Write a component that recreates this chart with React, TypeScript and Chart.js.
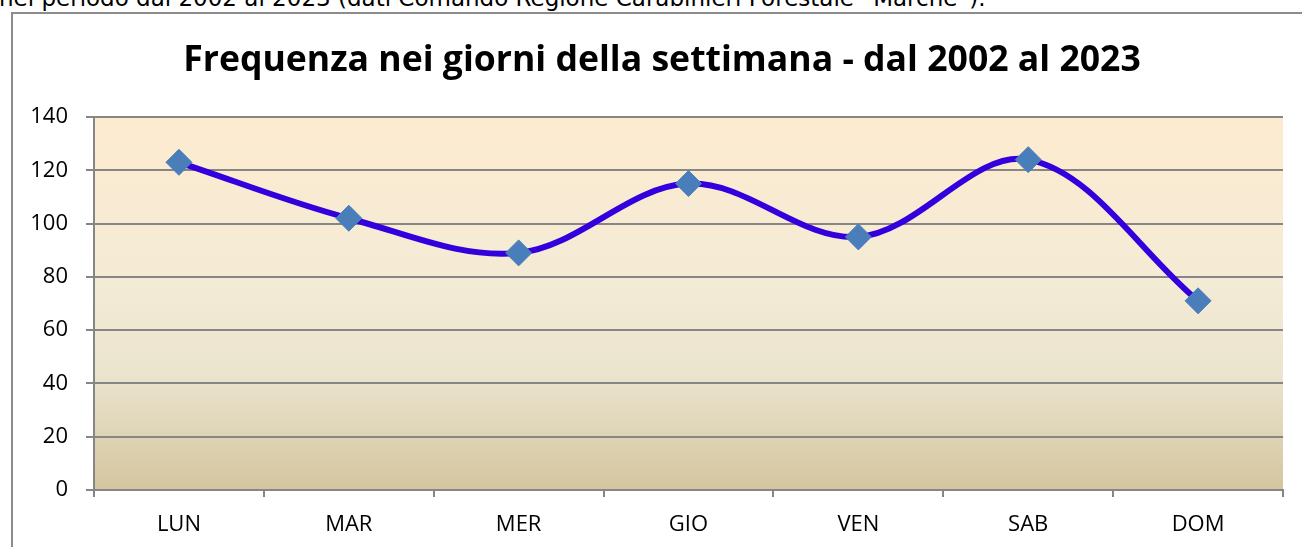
import React, { useEffect, useRef } from 'react';
import { Chart, registerables } from 'chart.js';

Chart.register(...registerables);

const CAPTION = 'nel periodo dal 2002 al 2023 (dati Comando Regione Carabinieri Forestale “Marche”).';
const TITLE = 'Frequenza nei giorni della settimana - dal 2002 al 2023';
const DAYS = ['LUN', 'MAR', 'MER', 'GIO', 'VEN', 'SAB', 'DOM'];
const FREQUENZA = [123, 102, 89, 115, 95, 124, 71];
const Y_MIN = 0;
const Y_MAX = 140;
const Y_STEP = 20;

const GRID = '#868686';
const FONT = 'Open Sans';

const plotBg = {
  id: 'plotBg',
  beforeDraw(chart: any) {
    const { ctx, chartArea: a } = chart;
    const g = ctx.createLinearGradient(0, a.top, 0, a.bottom);
    g.addColorStop(0, '#FDEBCF');
    g.addColorStop(0.45, '#F4EBD6');
    g.addColorStop(0.7, '#EAE3CD');
    g.addColorStop(1, '#D4C59E');
    ctx.save();
    ctx.fillStyle = g;
    ctx.fillRect(a.left, a.top, a.right - a.left, a.bottom - a.top);
    ctx.restore();
  },
};

const titlePlugin = {
  id: 'fixedTitle',
  afterDraw(chart: any) {
    const { ctx } = chart;
    ctx.save();
    ctx.font = `bold 28px "${FONT}"`;
    const w = ctx.measureText(TITLE).width;
    const size = Math.max(20, Math.min(40, (28 * 958) / w));
    ctx.font = `bold ${size}px "${FONT}"`;
    ctx.fillStyle = '#000';
    ctx.textAlign = 'center';
    ctx.textBaseline = 'alphabetic';
    ctx.fillText(TITLE, 649, 57);
    ctx.restore();
  },
};

export default function App() {
  const ref = useRef<HTMLCanvasElement | null>(null);

  useEffect(() => {
    const canvas = ref.current;
    if (!canvas) return;

    const chart = new Chart(canvas, {
      type: 'line',
      data: {
        labels: DAYS,
        datasets: [
          {
            label: 'Frequenza',
            data: FREQUENZA,
            borderColor: '#3300DD',
            borderWidth: 6,
            tension: 0.35,
            fill: false,
            pointStyle: 'rectRot',
            pointRadius: 13,
            pointHoverRadius: 13,
            pointBackgroundColor: '#4A7EBB',
            pointBorderColor: '#4A7EBB',
            pointBorderWidth: 1,
            clip: false as any,
          },
        ],
      },
      options: {
        responsive: false,
        animation: false,
        layout: { padding: { top: 103, right: 19, bottom: 0, left: 0 } },
        plugins: {
          legend: { display: false },
          tooltip: { enabled: false },
          title: { display: false },
        },
        scales: {
          x: {
            offset: true,
            grid: {
              offset: true,
              drawOnChartArea: false,
              drawTicks: true,
              tickLength: 7,
              color: GRID,
              lineWidth: 2,
            },
            border: { color: GRID, width: 2 },
            ticks: { color: '#000', padding: 15, font: { family: FONT, size: 22 } },
            afterFit(s: any) {
              s.height = 57;
            },
          },
          y: {
            min: Y_MIN,
            max: Y_MAX,
            ticks: { stepSize: Y_STEP, color: '#000', padding: 18, font: { family: FONT, size: 22 } },
            grid: { color: GRID, lineWidth: 2, tickLength: 8 },
            border: { color: GRID, width: 2 },
            afterFit(s: any) {
              s.width = 81;
            },
          },
        },
      },
      plugins: [plotBg, titlePlugin],
    });
    return () => chart.destroy();
  }, []);

  return (
    <div
      style={{
        position: 'fixed',
        left: 0,
        top: 0,
        width: 1302,
        height: 547,
        overflow: 'hidden',
        background: '#fff',
      }}
    >
      <div
        style={{
          position: 'absolute',
          left: -1,
          top: -14,
          fontFamily: '"DejaVu Sans"',
          fontSize: 23,
          lineHeight: '24px',
          whiteSpace: 'nowrap',
          color: '#000',
        }}
      >
        {CAPTION}
      </div>
      <div
        style={{
          position: 'absolute',
          left: 11,
          top: 12,
          borderLeft: '2px solid #8C8C8C',
          borderTop: '2px solid #8C8C8C',
          width: 1289,
          height: 533,
        }}
      >
        <canvas ref={ref} width={1289} height={533} style={{ display: 'block', width: 1289, height: 533 }} />
      </div>
    </div>
  );
}
